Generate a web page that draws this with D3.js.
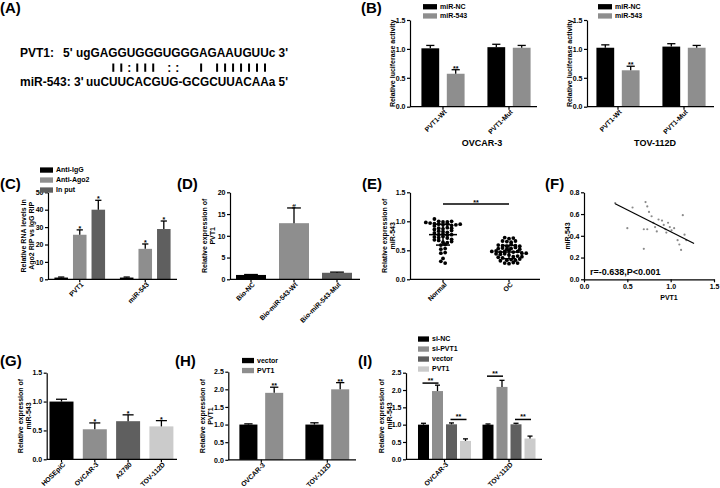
<!DOCTYPE html>
<html>
<head>
<meta charset="utf-8">
<script src="https://cdn.jsdelivr.net/npm/d3@7"></script>
<style>
  body { margin: 0; background: #fff; }
  svg text { font-family: "Liberation Sans", Arial, sans-serif; fill: #000; }
</style>
</head>
<body>
<svg id="fig" width="720" height="488"></svg>
<script>
// ----------------------------
// Data
// ----------------------------

// (A) binding site
const seqNames = ["PVT1:", "miR-543:"];
const seqLeftEnds = ["5'", "3'"];
const seqBodies = ["ugGAGGUGGGUGGGAGAAUGUUc", "uuCUUCACGUG-GCGCUUACAAa"];
const seqRightEnds = ["3'", "5'"];

// (B) luciferase
const lucGroups = ["PVT1-Wt", "PVT1-Mut"];
const lucSeries = ["miR-NC", "miR-543"];
const lucOvcar = [[1.01, 0.57], [1.03, 1.02]];
const lucOvcarErr = [[0.05, 0.07], [0.05, 0.04]];
const lucTov = [[1.02, 0.63], [1.04, 1.02]];
const lucTovErr = [[0.05, 0.07], [0.05, 0.04]];
const lucSig = [["", "**"], ["", ""]];
const lucTicks = [0, 0.5, 1.0, 1.5];

// (C) RIP
const ripGroups = ["PVT1", "miR-543"];
const ripSeries = ["Anti-IgG", "Anti-Ago2", "In put"];
const ripMean = [[1, 25.6, 40.0], [1, 17.5, 28.9]];
const ripErr = [[0.3, 2.8, 5.4], [0.3, 2.8, 4.6]];
const ripSig = [["", "*", "*"], ["", "*", "*"]];
const ripTicks = [0, 10, 20, 30, 40, 50];

// (D) pull-down
const pullCats = ["Bio-NC", "Bio-miR-543-Wt", "Bio-miR-543-Mut"];
const pullMean = [1.0, 12.9, 1.5];
const pullErr = [0.1, 3.5, 0.15];
const pullSig = ["", "#", ""];
const pullTicks = [0, 5, 10, 15, 20];

// (E) tissue expression
const tissueGroups = ["Normal", "OC"];
const normalVals = [1.04, 1.00, 0.99, 0.98, 0.97, 0.99, 1.00, 0.96, 0.95, 0.94, 0.95, 0.93, 0.94, 0.95,
  0.92, 0.88, 0.87, 0.89, 0.86, 0.88, 0.83, 0.82, 0.81, 0.84, 0.80, 0.77, 0.78, 0.76, 0.77,
  0.73, 0.72, 0.74, 0.71, 0.68, 0.67, 0.69, 0.64, 0.63, 0.65, 0.59, 0.60, 0.52, 0.53,
  0.45, 0.46, 0.36, 0.31, 0.28];
const ocVals = [0.72, 0.70, 0.71, 0.66, 0.65, 0.64, 0.66, 0.59, 0.58, 0.57, 0.60, 0.58, 0.57,
  0.53, 0.54, 0.52, 0.53, 0.55, 0.52, 0.48, 0.49, 0.47, 0.48, 0.50, 0.47, 0.48,
  0.44, 0.45, 0.43, 0.44, 0.42, 0.45, 0.39, 0.40, 0.38, 0.39, 0.37,
  0.33, 0.34, 0.32, 0.33, 0.35, 0.28, 0.27, 0.29, 0.28];
const tissueMean = [0.77, 0.47];
const tissueSd = [0.18, 0.115];
const tissueSigLevel = 1.3;
const tissueTicks = [0, 0.5, 1.0, 1.5];

// (F) correlation
const corrPvt1 = [0.36, 0.56, 0.71, 0.73, 0.75, 0.78, 0.50, 0.69, 0.73, 0.80, 0.82, 0.84, 0.86, 0.90,
  0.92, 0.94, 0.95, 0.97, 0.99, 1.01, 1.04, 1.14, 1.16, 1.18, 1.08, 1.10, 1.12, 0.69];
const corrMir = [0.70, 0.66, 0.71, 0.67, 0.62, 0.58, 0.47, 0.46, 0.46, 0.52, 0.48, 0.44, 0.55, 0.54,
  0.50, 0.46, 0.43, 0.52, 0.48, 0.45, 0.47, 0.59, 0.41, 0.36, 0.36, 0.32, 0.27, 0.28];
const fitPvt1 = [0.36, 1.27];
const fitMir = [0.695, 0.33];
const corrXTicks = [0, 0.5, 1.0, 1.5];
const corrYTicks = [0, 0.2, 0.4, 0.6, 0.8];

// (G) cell lines
const cellLines = ["HOSEpiC", "OVCAR-3", "A2780", "TOV-112D"];
const cellMean = [1.0, 0.52, 0.66, 0.57];
const cellErr = [0.04, 0.11, 0.11, 0.10];
const cellSig = ["", "*", "*", "*"];
const cellTicks = [0, 0.5, 1.0, 1.5];

// (H) PVT1 overexpression
const ovGroups = ["OVCAR-3", "TOV-112D"];
const hSeries = ["vector", "PVT1"];
const hMean = [[1.0, 1.9], [1.0, 2.0]];
const hErr = [[0.02, 0.16], [0.05, 0.19]];
const hSig = [["", "**"], ["", "**"]];
const expTicks = [0, 0.5, 1.0, 1.5, 2.0, 2.5];

// (I) knockdown / overexpression
const iSeries = ["si-NC", "si-PVT1", "vector", "PVT1"];
const iMean = [[1.0, 1.97, 1.01, 0.53], [1.0, 2.09, 1.01, 0.60]];
const iErr = [[0.04, 0.17, 0.04, 0.06], [0.02, 0.19, 0.03, 0.07]];
const iPairs = [[0, 1], [2, 3]];
const iPairLevel = [[2.2, 1.15], [2.4, 1.15]];

// colours
const cBlack = "#000000", cGray = "#8e8e8e", cDark = "#5f5f5f", cLight = "#cbcbcb";

// ----------------------------
// Helpers
// ----------------------------
const svg = d3.select("#fig");
const FS = 7;

function label(g, x, y, s, size, anchor) {
  return g.append("text").attr("x", x).attr("y", y)
    .attr("font-size", size).attr("font-weight", "bold")
    .attr("text-anchor", anchor || "start").text(s);
}

function styleAxis(a) {
  a.attr("font-family", null).attr("font-size", null);
  a.selectAll("path, line").attr("stroke", "#000").attr("stroke-width", 1.2);
  a.selectAll("text").attr("font-size", FS).attr("font-weight", "bold").attr("fill", "#000");
}

// replace the tick text by slanted labels
function rotateTicks(a) {
  a.selectAll(".tick").each(function () {
    const t = d3.select(this);
    const s = t.select("text").text();
    t.select("text").remove();
    t.append("g").attr("transform", "translate(2.5,4)")
      .append("g").attr("transform", "rotate(-45)")
      .append("text").attr("text-anchor", "end").attr("dy", "0.35em")
      .attr("font-size", 6.8).attr("font-weight", "bold").text(s);
  });
}

function yAxis(g, y, ax, ticks, fmt) {
  const a = g.append("g").attr("transform", `translate(${ax},0)`)
    .call(d3.axisLeft(y).tickValues(ticks).tickFormat(d3.format(fmt)).tickSize(3).tickPadding(1.5).tickSizeOuter(0));
  styleAxis(a);
  return a;
}

function yTitle(g, x, yc, lines) {
  lines.forEach((s, i) => {
    g.append("text").attr("transform", `translate(${x + i * 8},${yc}) rotate(-90)`)
      .attr("text-anchor", "middle").attr("dy", "0.35em")
      .attr("font-size", FS).attr("font-weight", "bold").text(s);
  });
}

function legend(g, x, y0, step, w, names, colors) {
  names.forEach((n, i) => {
    g.append("rect").attr("x", x).attr("y", y0 + i * step - 2.6).attr("width", w).attr("height", 5.3).attr("fill", colors[i]);
    g.append("text").attr("x", x + w + 3).attr("y", y0 + i * step).attr("dy", "0.35em")
      .attr("font-size", FS).attr("font-weight", "bold").text(n);
  });
}

// grouped bar chart in GraphPad style
function barPanel(p) {
  const g = svg.append("g");
  const y = d3.scaleLinear().domain([0, p.yMax]).range([p.yBase, p.yTop]);
  const x = d3.scaleBand().domain(p.groups).range(p.xRange);
  const nS = p.values[0].length;
  const xs = d3.scaleBand().domain(d3.range(nS)).range([0, x.bandwidth()])
    .paddingInner(p.padIn).paddingOuter(p.padOut);

  const rows = [];
  p.groups.forEach((gr, i) => p.values[i].forEach((v, j) => rows.push({
    gr, j, v, e: p.errs[i][j], sig: p.sig ? p.sig[i][j] : "",
    fill: p.byGroup ? p.colors[i] : p.colors[j]
  })));
  const cx = d => x(d.gr) + xs(d.j) + xs.bandwidth() / 2;
  const cap = Math.min(xs.bandwidth() * 0.23, 7);

  g.selectAll("rect.bar").data(rows).enter().append("rect")
    .attr("class", "bar")
    .attr("x", d => x(d.gr) + xs(d.j))
    .attr("width", xs.bandwidth())
    .attr("y", d => y(d.v))
    .attr("height", d => y(0) - y(d.v))
    .attr("fill", d => d.fill);

  const eb = g.selectAll("g.err").data(rows).enter().append("g").attr("class", "err")
    .attr("stroke", "#000").attr("stroke-width", 1.3);
  eb.append("line").attr("x1", cx).attr("x2", cx).attr("y1", d => y(d.v)).attr("y2", d => y(d.v + d.e));
  eb.append("line").attr("x1", d => cx(d) - cap).attr("x2", d => cx(d) + cap)
    .attr("y1", d => y(d.v + d.e)).attr("y2", d => y(d.v + d.e));

  g.selectAll("text.sig").data(rows.filter(d => d.sig)).enter().append("text")
    .attr("class", "sig")
    .attr("x", cx).attr("y", d => y(d.v + d.e) + 1)
    .attr("text-anchor", "middle").attr("font-size", FS).attr("font-weight", "bold")
    .text(d => d.sig);

  yAxis(g, y, p.axisX, p.yTicks, p.fmt);
  const xa = g.append("g").attr("transform", `translate(0,${p.yBase})`)
    .call(d3.axisBottom(x).tickSize(3).tickSizeOuter(0));
  xa.select(".domain").remove();
  xa.append("line").attr("x1", p.axisX).attr("x2", p.axisEnd);
  styleAxis(xa);
  rotateTicks(xa);

  return { g, x, xs, y };
}

// ----------------------------
// Panel letters
// ----------------------------
const letters = ["(A)", "(B)", "(C)", "(D)", "(E)", "(F)", "(G)", "(H)", "(I)"];
const letterAt = [[0, 13], [361, 13], [0, 189], [177, 189], [362, 189], [545, 189], [0, 366], [175, 366], [358, 366]];
letters.forEach((s, i) => label(svg, letterAt[i][0], letterAt[i][1], s, 15));

// ----------------------------
// (A) sequences
// ----------------------------
const gA = svg.append("g");
const seqBase = [57.3, 85.7];
const seqNameX = 20, seqLeftX = [63, 74], seqBodyX = [76, 86], seqRight = 288;
seqNames.forEach((n, i) => {
  label(gA, seqNameX, seqBase[i], n, 12);
  label(gA, seqLeftX[i], seqBase[i], seqLeftEnds[i], 12);
  label(gA, seqBodyX[i], seqBase[i], seqBodies[i] + " " + seqRightEnds[i], 12)
    .attr("textLength", seqRight - seqBodyX[i]).attr("lengthAdjust", "spacingAndGlyphs");
});
// base pairing derived from the two sequences
function pairSym(a, b) {
  const p = a + b;
  if (["GC", "CG", "AU", "UA"].includes(p)) return "|";
  if (["GU", "UG"].includes(p)) return ":";
  return "";
}
const seqTop = seqBodies[0], seqBot = seqBodies[1];
const pairs = [];
for (let i = 0; i < seqTop.length; i++) {
  if (seqTop[i] === seqTop[i].toUpperCase() && seqBot[i] === seqBot[i].toUpperCase()) {
    const s = pairSym(seqTop[i], seqBot[i]);
    if (s) pairs.push({ i, s });
  }
}
const pairX = d3.scaleLinear().domain([2, 21]).range([113.3, 265]);
gA.selectAll("line.bp").data(pairs.filter(d => d.s === "|")).enter().append("line")
  .attr("x1", d => pairX(d.i)).attr("x2", d => pairX(d.i))
  .attr("y1", 63.5).attr("y2", 71.8).attr("stroke", "#000").attr("stroke-width", 2);
gA.selectAll("text.bp").data(pairs.filter(d => d.s === ":")).enter().append("text")
  .attr("x", d => pairX(d.i)).attr("y", 71.8).attr("text-anchor", "middle")
  .attr("font-size", 12).attr("font-weight", "bold").text(d => d.s);

// ----------------------------
// (B) luciferase, two cell lines
// ----------------------------
const lucPanels = [
  { values: lucOvcar, errs: lucOvcarErr, axisX: 410, xRange: [410, 542], axisEnd: 537, legX: 423, title: "OVCAR-3", titleX: 482 },
  { values: lucTov, errs: lucTovErr, axisX: 587, xRange: [585, 717], axisEnd: 714, legX: 598, title: "TOV-112D", titleX: 655 }
];
lucPanels.forEach(lp => {
  const r = barPanel({
    groups: lucGroups, values: lp.values, errs: lp.errs, sig: lucSig,
    colors: [cBlack, cGray], yMax: 1.5, yBase: 106.7, yTop: 20, yTicks: lucTicks, fmt: ".1f",
    axisX: lp.axisX, xRange: lp.xRange, axisEnd: lp.axisEnd, padIn: 0.3, padOut: 0.45
  });
  legend(r.g, lp.legX, 6.7, 9.2, 14, lucSeries, [cBlack, cGray]);
  yTitle(r.g, lp.axisX - 17, 63.3, ["Relative luciferase activity"]);
  label(r.g, lp.titleX, 146, lp.title, 9, "middle");
});

// ----------------------------
// (C) RIP
// ----------------------------
{
  const r = barPanel({
    groups: ripGroups, values: ripMean, errs: ripErr, sig: ripSig,
    colors: [cBlack, cGray, cDark], yMax: 50, yBase: 279.3, yTop: 192.3, yTicks: ripTicks, fmt: "d",
    axisX: 48, xRange: [47, 178], axisEnd: 177, padIn: 0.27, padOut: 0.4
  });
  legend(r.g, 40, 170, 10, 13, ripSeries, [cBlack, cGray, cDark]);
  yTitle(r.g, 23.5, 235.8, ["Relative RNA levels in", "Ago2 RIP vs IgG RIP"]);
}

// ----------------------------
// (D) pull-down
// ----------------------------
{
  const r = barPanel({
    groups: pullCats, values: pullMean.map(v => [v]), errs: pullErr.map(v => [v]), sig: pullSig.map(v => [v]),
    byGroup: true, colors: [cBlack, cGray, cDark], yMax: 20, yBase: 279.3, yTop: 192.3, yTicks: pullTicks, fmt: "d",
    axisX: 230, xRange: [229.5, 358.5], axisEnd: 360, padIn: 0, padOut: 0.217
  });
  yTitle(r.g, 205, 235.8, ["Relative expression of", "PVT1"]);
}

// ----------------------------
// (E) scatter dot plot
// ----------------------------
{
  const g = svg.append("g");
  const y = d3.scaleLinear().domain([0, 1.5]).range([279.3, 192.3]);
  const x = d3.scaleBand().domain(tissueGroups).range([410, 542]);
  const mid = gname => x(gname) + x.bandwidth() / 2;

  // simple swarm: bin by value, spread points of a bin sideways
  function swarm(vals, binW, gap) {
    const out = [];
    d3.group(vals, v => Math.round(v / binW)).forEach(arr =>
      arr.forEach((v, i) => out.push({ v, dx: (i - (arr.length - 1) / 2) * gap })));
    return out;
  }
  [normalVals, ocVals].forEach((vals, k) => {
    const gname = tissueGroups[k];
    g.selectAll(null).data(swarm(vals, 0.06, 4.3)).enter().append("circle")
      .attr("cx", d => mid(gname) + d.dx).attr("cy", d => y(d.v)).attr("r", 1.9).attr("fill", "#000");
    const m = tissueMean[k], s = tissueSd[k];
    const st = g.append("g").attr("stroke", "#000").attr("stroke-width", 1.5);
    st.append("line").attr("x1", mid(gname) - 14).attr("x2", mid(gname) + 14).attr("y1", y(m)).attr("y2", y(m));
    st.append("line").attr("x1", mid(gname)).attr("x2", mid(gname)).attr("y1", y(m - s)).attr("y2", y(m + s));
    [m - s, m + s].forEach(v => st.append("line").attr("x1", mid(gname) - 7).attr("x2", mid(gname) + 7).attr("y1", y(v)).attr("y2", y(v)));
  });
  g.append("line").attr("x1", mid("Normal")).attr("x2", mid("OC"))
    .attr("y1", y(tissueSigLevel)).attr("y2", y(tissueSigLevel)).attr("stroke", "#000").attr("stroke-width", 1.5);
  label(g, (mid("Normal") + mid("OC")) / 2, y(tissueSigLevel) + 1.5, "**", FS, "middle");

  yAxis(g, y, 410, tissueTicks, ".1f");
  const xa = g.append("g").attr("transform", "translate(0,279.3)")
    .call(d3.axisBottom(x).tickSize(3).tickSizeOuter(0));
  xa.select(".domain").remove();
  xa.append("line").attr("x1", 410).attr("x2", 540);
  styleAxis(xa);
  rotateTicks(xa);
  yTitle(g, 385, 235.8, ["Relative expression of", "miR-543"]);
}

// ----------------------------
// (F) correlation
// ----------------------------
{
  const g = svg.append("g");
  const x = d3.scaleLinear().domain([0, 1.5]).range([584, 714]);
  const y = d3.scaleLinear().domain([0, 0.8]).range([279.3, 192.3]);
  g.selectAll(null).data(corrPvt1).enter().append("circle")
    .attr("cx", d => x(d)).attr("cy", (d, i) => y(corrMir[i])).attr("r", 1.1).attr("fill", "#8a8a8a");
  g.append("line").attr("x1", x(fitPvt1[0])).attr("x2", x(fitPvt1[1]))
    .attr("y1", y(fitMir[0])).attr("y2", y(fitMir[1])).attr("stroke", "#000").attr("stroke-width", 1.2);
  yAxis(g, y, 584, corrYTicks, ".1f");
  const xa = g.append("g").attr("transform", "translate(0,279.3)")
    .call(d3.axisBottom(x).tickValues(corrXTicks).tickFormat(d3.format(".1f")).tickSize(3).tickPadding(1.5).tickSizeOuter(0));
  styleAxis(xa);
  label(g, 669, 300, "PVT1", FS, "middle");
  yTitle(g, 568, 236, ["miR-543"]);
  label(g, 590, 275, "r=-0.638,P<0.001", 9);
}

// ----------------------------
// (G) cell lines
// ----------------------------
{
  const r = barPanel({
    groups: cellLines, values: cellMean.map(v => [v]), errs: cellErr.map(v => [v]), sig: cellSig.map(v => [v]),
    byGroup: true, colors: [cBlack, cGray, cDark, cLight], yMax: 1.5, yBase: 459.3, yTop: 372.7, yTicks: cellTicks, fmt: ".1f",
    axisX: 46.7, xRange: [44.85, 178.05], axisEnd: 177, padIn: 0, padOut: 0.194
  });
  yTitle(r.g, 21, 416, ["Relative expression of", "miR-543"]);
}

// ----------------------------
// (H) PVT1 overexpression
// ----------------------------
{
  const r = barPanel({
    groups: ovGroups, values: hMean, errs: hErr, sig: hSig,
    colors: [cBlack, cGray], yMax: 2.5, yBase: 459.8, yTop: 371.7, yTicks: expTicks, fmt: ".1f",
    axisX: 228.3, xRange: [228.3, 360.3], axisEnd: 356, padIn: 0.3, padOut: 0.43
  });
  legend(r.g, 242, 360.5, 10, 12, hSeries, [cBlack, cGray]);
  yTitle(r.g, 203, 416, ["Relative expression of", "PVT1"]);
}

// ----------------------------
// (I) miR-543 after PVT1 knockdown / overexpression
// ----------------------------
{
  const r = barPanel({
    groups: ovGroups, values: iMean, errs: iErr,
    colors: [cBlack, cGray, cDark, cLight], yMax: 2.5, yBase: 459.3, yTop: 372.7, yTicks: expTicks, fmt: ".1f",
    axisX: 406, xRange: [412.25, 541.25], axisEnd: 542, padIn: 0.214, padOut: 0.41
  });
  legend(r.g, 418, 339, 10, 11, iSeries, [cBlack, cGray, cDark, cLight]);
  yTitle(r.g, 382, 416, ["Relative expression of", "miR-543"]);
  const bc = (gr, j) => r.x(gr) + r.xs(j) + r.xs.bandwidth() / 2;
  ovGroups.forEach((gr, gi) => {
    iPairs.forEach((pr, k) => {
      const yy = r.y(iPairLevel[gi][k]);
      r.g.append("line").attr("x1", bc(gr, pr[0]) - 1).attr("x2", bc(gr, pr[1]) + 1)
        .attr("y1", yy).attr("y2", yy).attr("stroke", "#000").attr("stroke-width", 1.5);
      label(r.g, (bc(gr, pr[0]) + bc(gr, pr[1])) / 2, yy - 0.5, "**", FS, "middle");
    });
  });
}
</script>
</body>
</html>
